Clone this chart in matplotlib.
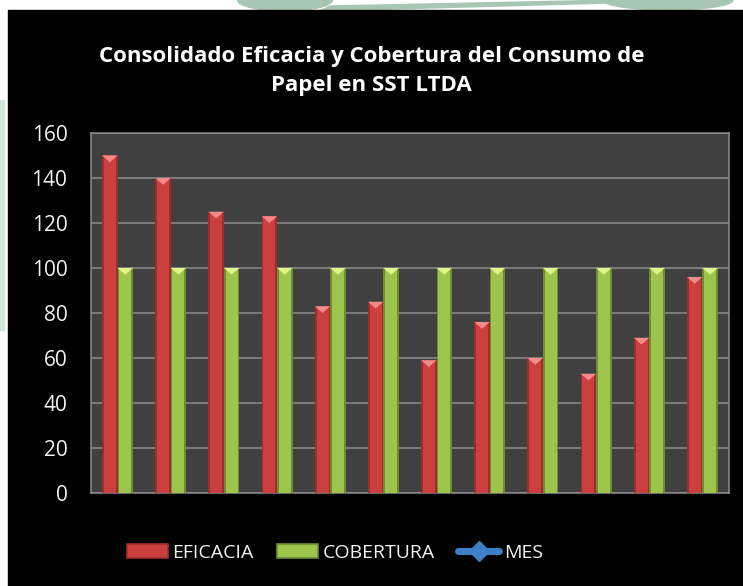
import matplotlib
matplotlib.use("Agg")
import numpy as np
import matplotlib.pyplot as plt
import matplotlib.patches as mpatches
from matplotlib.lines import Line2D
from matplotlib.legend_handler import HandlerPatch

# ── Data ──────────────────────────────────────────────────────────────────────
meses = np.arange(1, 13)
eficacia = [150, 140, 125, 123, 83, 85, 59, 76, 60, 53, 69, 96]
cobertura = [100] * 12
y_ticks = [0, 20, 40, 60, 80, 100, 120, 140, 160]

RED, RED_DARK, RED_TIP = "#cc3f3f", "#a02d2d", "#f58a8a"
GRN, GRN_DARK, GRN_TIP = "#9dc44b", "#6f8c2e", "#e2f58a"
TXT = "#f2f2f2"
DECO = "#a7c7b3"

W, H = 743, 586
fig = plt.figure(figsize=(W / 100, H / 100), dpi=100)
fig.patch.set_facecolor("white")

# page decoration behind the chart (pixel coords -> figure fraction)
def px(x, y):
    return (x / W, 1 - y / H)

fig.patches.append(mpatches.Ellipse(px(285, 0), 95 / W, 22 / H, transform=fig.transFigure,
                                    color=DECO, zorder=0))
fig.patches.append(mpatches.Polygon([px(320, 11), px(610, 3), px(620, 0), px(330, 6)],
                                    closed=True, transform=fig.transFigure,
                                    color=DECO, zorder=0))
fig.patches.append(mpatches.Ellipse(px(668, 0), 130 / W, 20 / H, transform=fig.transFigure,
                                    color=DECO, zorder=0))
fig.patches.append(mpatches.Rectangle(px(0, 330), 4 / W, 230 / H, transform=fig.transFigure,
                                      color="#d5e6da", zorder=0))
# black chart frame
fig.patches.append(mpatches.Rectangle((8 / W, 0), 1, (H - 10) / H,
                                      transform=fig.transFigure, color="black", zorder=1))

ax = fig.add_axes([91 / W, 93 / H, 638 / W, 360 / H])
ax.set_zorder(2)
ax.set_facecolor("#404040")

w = 0.29
x_ef = meses - w / 2
x_co = meses + w / 2


def bevel_bars(xs, vals, base, dark, tip):
    ax.bar(xs, vals, width=w, color=dark, zorder=3)
    ax.bar(xs, vals, width=w * 0.78, color=base, zorder=4)
    for xc, v in zip(xs, vals):
        tri = mpatches.Polygon([[xc - w / 2, v], [xc + w / 2, v], [xc, v - 3.0]],
                               closed=True, color=tip, zorder=5, lw=0)
        ax.add_patch(tri)


bevel_bars(x_ef, eficacia, RED, RED_DARK, RED_TIP)
bevel_bars(x_co, cobertura, GRN, GRN_DARK, GRN_TIP)

ax.set_xlim(0.5, 12.5)
ax.set_ylim(0, 160)
ax.set_yticks(y_ticks)
ax.set_xticks([])
ax.yaxis.grid(True, color="#8c8c8c", lw=1.1)
ax.set_axisbelow(True)
ax.tick_params(axis="y", length=0, pad=17, labelsize=15, labelcolor=TXT)
for lbl in ax.get_yticklabels():
    lbl.set_family("Open Sans")
for spine in ax.spines.values():
    spine.set_color("#8c8c8c")
    spine.set_linewidth(1.1)

fig.text(0.5, (H - 71) / H,
         "Consolidado Eficacia y Cobertura del Consumo de\nPapel en SST LTDA",
         ha="center", va="center", color="white", fontsize=16, fontweight="bold",
         family="Open Sans", linespacing=1.5, zorder=3)


class BevelHandler(HandlerPatch):
    def create_artists(self, legend, orig_handle, xd, yd, width, height, fontsize, trans):
        p = mpatches.Rectangle((-xd, -yd), width, height,
                               facecolor=orig_handle.get_facecolor(),
                               edgecolor=orig_handle.get_edgecolor(), lw=1.2, transform=trans)
        return [p]


handles = [
    mpatches.Patch(facecolor=RED, edgecolor=RED_DARK, label="EFICACIA"),
    mpatches.Patch(facecolor=GRN, edgecolor=GRN_DARK, label="COBERTURA"),
    Line2D([], [], color="#3f7fc8", lw=5, marker="D", markersize=10,
           markerfacecolor="#3f7fc8", markeredgecolor="#3f7fc8",
           solid_capstyle="round", label="MES"),
]
leg = fig.legend(handles=handles, loc="center", bbox_to_anchor=(335 / W, (H - 553) / H),
                 ncol=3, frameon=False, handlelength=2.1, handleheight=0.7,
                 handletextpad=0.25, columnspacing=1.2,
                 handler_map={mpatches.Patch: BevelHandler()},
                 prop={"family": "Open Sans", "size": 14})
leg.set_zorder(3)
for t in leg.get_texts():
    t.set_color(TXT)

fig.savefig("out.png", dpi=100, facecolor=fig.get_facecolor())
